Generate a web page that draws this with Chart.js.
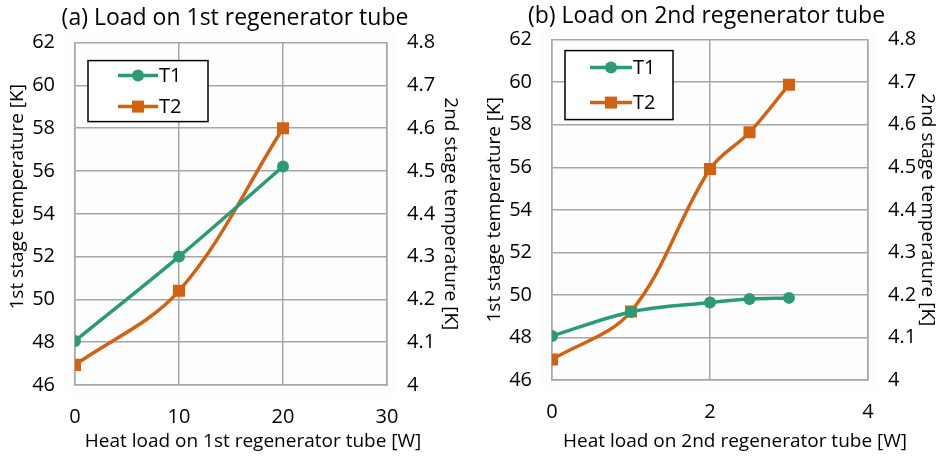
<!DOCTYPE html>
<html>
<head>
<meta charset="utf-8">
<script src="https://cdn.jsdelivr.net/npm/chart.js"></script>
<style>
  html, body { margin: 0; padding: 0; background: #fff; }
  #wrap { position: relative; width: 943px; height: 456px; }
  canvas { position: absolute; top: 0; }
</style>
</head>
<body>
<div id="wrap">
  <canvas id="chartA" width="470" height="456" style="left:0"></canvas>
  <canvas id="chartB" width="473" height="456" style="left:470px"></canvas>
</div>
<script>
// (a) heat load on 1st regenerator tube
const loadA = [0, 10, 20];
const t1A = [48.06, 52.0, 56.21];
const t2A = [4.047, 4.22, 4.60];

// (b) heat load on 2nd regenerator tube
const loadB = [0, 1, 2, 2.5, 3];
const t1B = [48.07, 49.2, 49.64, 49.81, 49.86];
const t2B = [4.048, 4.161, 4.496, 4.582, 4.694];

const seriesNames = ['T1', 'T2'];
const green = '#2b9a76';
const orange = '#d2620f';
const font = "'Open Sans', 'Liberation Sans', sans-serif";

function pts(xs, ys) {
  return xs.map((x, i) => ({ x: x, y: ys[i] }));
}

// legend box drawn inside the plot like in the original, plus the shifted axis titles
const boxLegend = {
  id: 'boxLegend',
  afterDraw(chart, args, opts) {
    const ctx = chart.ctx;
    const a = chart.chartArea;
    const bx = a.left + opts.dx, by = a.top + opts.dy;
    ctx.save();
    ctx.fillStyle = '#fff';
    ctx.fillRect(bx, by, opts.w, opts.h);
    ctx.strokeStyle = '#000';
    ctx.lineWidth = 1.5;
    ctx.strokeRect(bx, by, opts.w, opts.h);
    chart.data.datasets.forEach((ds, i) => {
      const y = by + opts.rows[i];
      const x0 = bx + opts.lx, x1 = x0 + opts.lw;
      ctx.strokeStyle = ds.borderColor;
      ctx.lineWidth = 3.5;
      ctx.beginPath();
      ctx.moveTo(x0, y);
      ctx.lineTo(x1, y);
      ctx.stroke();
      ctx.fillStyle = ds.backgroundColor;
      ctx.beginPath();
      if (ds.pointStyle === 'rect') {
        const s = ds.pointRadius * Math.SQRT1_2;
        ctx.rect((x0 + x1) / 2 - s, y - s, 2 * s, 2 * s);
      } else {
        ctx.arc((x0 + x1) / 2, y, ds.pointRadius, 0, Math.PI * 2);
      }
      ctx.fill();
      ctx.fillStyle = '#000';
      ctx.font = '20px ' + font;
      ctx.textBaseline = 'middle';
      ctx.textAlign = 'left';
      ctx.fillText(ds.label, x1 + 1, y + 1);
    });
    // x axis title
    ctx.fillStyle = '#000';
    ctx.font = '19px ' + font;
    ctx.textAlign = 'center';
    ctx.textBaseline = 'middle';
    ctx.fillText(opts.xTitle, (a.left + a.right) / 2 + opts.xTitleDx, opts.xTitleY);
    // left y axis title
    ctx.translate(opts.yTitleX, (a.top + a.bottom) / 2 + opts.yTitleDy);
    ctx.rotate(-Math.PI / 2);
    ctx.fillText(opts.yTitle, 0, 0);
    ctx.restore();
  }
};

const plotBg = {
  id: 'plotBg',
  beforeDraw(chart) {
    const a = chart.chartArea;
    chart.ctx.save();
    chart.ctx.fillStyle = '#fdfdfd';
    chart.ctx.fillRect(a.left - 10, a.top - 10, a.right - a.left + 20, a.bottom - a.top + 20);
    chart.ctx.restore();
  }
};

function makeChart(id, cfg) {
  const tickFont = { family: font, size: 20 };
  const titleFont = { family: font, size: 19 };
  const gridCol = '#a6a6a6';
  return new Chart(document.getElementById(id), {
    type: 'line',
    data: {
      datasets: [{
        label: seriesNames[0],
        data: pts(cfg.load, cfg.t1),
        yAxisID: 'y',
        borderColor: green,
        backgroundColor: green,
        borderWidth: 3.5,
        pointStyle: 'circle',
        pointRadius: 6,
        pointBorderWidth: 0,
        tension: 0.35
      }, {
        label: seriesNames[1],
        data: pts(cfg.load, cfg.t2),
        yAxisID: 'y2',
        borderColor: orange,
        backgroundColor: orange,
        borderWidth: 3.5,
        pointStyle: 'rect',
        pointRadius: 8.5,
        pointBorderWidth: 0,
        tension: 0.35
      }]
    },
    options: {
      responsive: false,
      animation: false,
      layout: { padding: 0 },
      plugins: {
        legend: { display: false },
        tooltip: { enabled: false },
        title: {
          display: true,
          text: cfg.title,
          color: '#000',
          font: { family: font, size: 23, weight: 'normal' },
          padding: { top: cfg.titleTop, bottom: cfg.titleBottom }
        },
        boxLegend: cfg.legend
      },
      scales: {
        x: {
          type: 'linear',
          min: 0, max: cfg.xMax,
          grid: { color: gridCol, lineWidth: 1.5, drawTicks: false },
          border: { color: gridCol, width: 1.5 },
          ticks: { stepSize: cfg.xStep, color: '#000', font: tickFont, padding: 20 },
          afterFit: s => { s.height = cfg.xH; }
        },
        y: {
          position: 'left',
          min: 46, max: 62,
          grid: { color: gridCol, lineWidth: 1.5, drawTicks: false },
          border: { color: gridCol, width: 1.5 },
          ticks: { stepSize: 2, color: '#000', font: tickFont, padding: 20 },
          afterFit: s => { s.width = cfg.yW; }
        },
        y2: {
          position: 'right',
          min: 4, max: 4.8,
          grid: { display: false, drawTicks: false },
          border: { color: gridCol, width: 1.5 },
          ticks: { stepSize: 0.1, color: '#000', font: tickFont, padding: 20,
                   callback: v => String(+v.toFixed(1)) },
          title: { display: true, text: '2nd stage temperature [K]', color: '#000', font: titleFont, padding: { top: cfg.y2TitlePad } },
          afterFit: s => { s.width = cfg.y2W; }
        }
      }
    },
    plugins: [plotBg, boxLegend]
  });
}

makeChart('chartA', {
  title: '(a) Load on 1st regenerator tube',
  load: loadA, t1: t1A, t2: t2A,
  xMax: 30, xStep: 10,
  titleTop: 5, titleBottom: 10,
  xH: 71, yW: 75, y2W: 83,
  y2TitlePad: 8,
  legend: { dx: 13, dy: 18, w: 120, h: 61, lx: 30, lw: 40, rows: [15, 46],
            xTitle: 'Heat load on 1st regenerator tube [W]', xTitleDx: 22, xTitleY: 442,
            yTitle: '1st stage temperature [K]', yTitleX: 18, yTitleDy: -17 }
});

makeChart('chartB', {
  title: '(b) Load on 2nd regenerator tube',
  load: loadB, t1: t1B, t2: t2B,
  xMax: 4, xStep: 2,
  titleTop: 3, titleBottom: 9,
  xH: 76, yW: 82, y2W: 75,
  y2TitlePad: 4,
  legend: { dx: 13, dy: 11, w: 108, h: 69, lx: 25, lw: 42, rows: [17, 52],
            xTitle: 'Heat load on 2nd regenerator tube [W]', xTitleDx: 25, xTitleY: 442,
            yTitle: '1st stage temperature [K]', yTitleX: 25, yTitleDy: 0 }
});
</script>
</body>
</html>
